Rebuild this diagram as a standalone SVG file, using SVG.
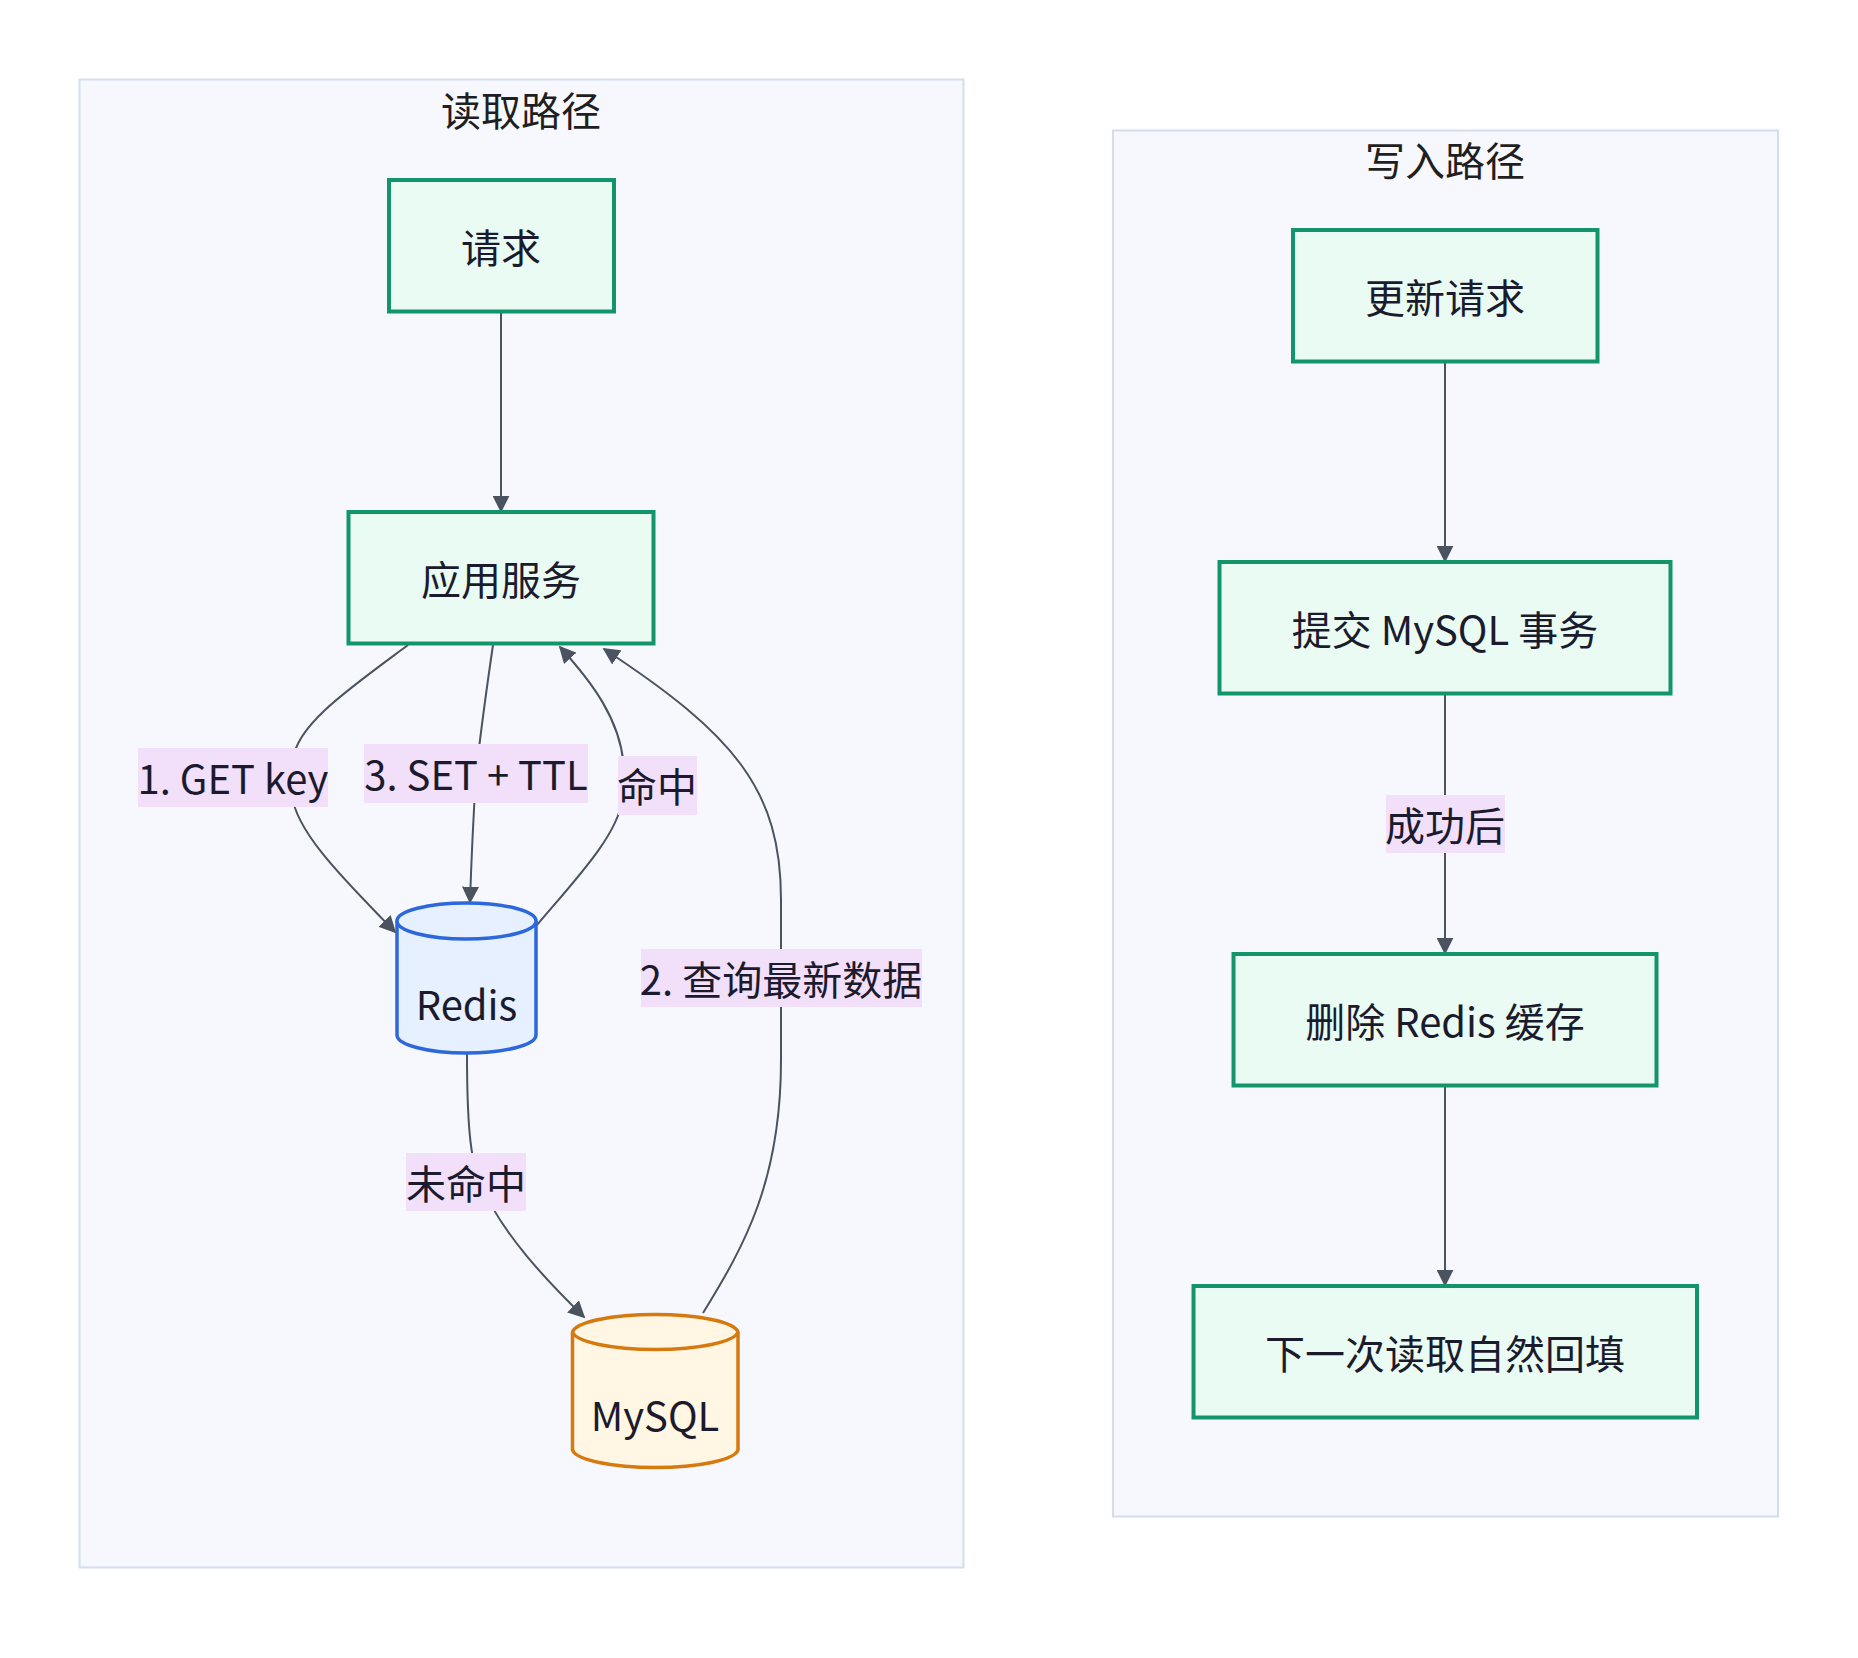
<svg xmlns="http://www.w3.org/2000/svg" width="1858" height="1658" viewBox="0 0 1858 1658">
<style>
  text { font-family: "Noto Sans CJK SC", "Noto Sans", sans-serif; font-size: 40px; fill: #1c1b2e; text-anchor: middle; dominant-baseline: central; }
  .cluster { fill: #f6f8fd; stroke: #d3ddf0; stroke-width: 2; }
  .title { fill: #1f1f1f; }
  .box { fill: #e9fbf3; stroke: #13956b; stroke-width: 4; }
  .redis { fill: #e6f0ff; stroke: #2c68dc; stroke-width: 3.5; }
  .mysql { fill: #fff6e4; stroke: #d67a10; stroke-width: 3.5; }
  .edge { fill: none; stroke: #4b5260; stroke-width: 2; marker-end: url(#arrow); }
  .lbl { fill: #f2dffa; }
</style>
<defs>
  <marker id="arrow" viewBox="0 0 10 10" refX="9" refY="5" markerUnits="userSpaceOnUse" markerWidth="17" markerHeight="17" orient="auto">
    <path d="M0,0 L10,5 L0,10 z" fill="#4b5260"/>
  </marker>
</defs>
<rect width="1858" height="1658" fill="#ffffff"/>

<g id="cluster-read">
  <rect class="cluster" x="79.5" y="79.5" width="884" height="1488"/>
  <text class="title" x="521" y="109">读取路径</text>
</g>
<g id="cluster-write">
  <rect class="cluster" x="1113" y="130.5" width="665" height="1386"/>
  <text class="title" x="1445" y="159">写入路径</text>
</g>

<g id="connectors">
  <path class="edge" d="M501,312 L501,511"/>
  <path class="edge" d="M408,645 C350,688 296,725 293,760 L292,795 C296,835 355,890 395,932"/>
  <path class="edge" d="M493,645 Q482,720 476,774 Q472,840 470,902"/>
  <path class="edge" d="M537,925 C575,880 618,835 622,800 L624,770 C622,720 590,680 560,647"/>
  <path class="edge" d="M703,1313 C745,1245 781,1180 781,1060 L781,900 C781,790 735,735 604,649"/>
  <path class="edge" d="M467,1053 C467,1120 470,1160 480,1182 C500,1232 548,1282 584,1317"/>
  <path class="edge" d="M1445,362 L1445,561"/>
  <path class="edge" d="M1445,694 L1445,953"/>
  <path class="edge" d="M1445,1086 L1445,1285"/>
</g>

<g id="edge-labels">
  <g id="label-get"><rect class="lbl" x="138" y="748" width="190" height="59"/><text x="233" y="777">1. GET key</text></g>
  <g id="label-set"><rect class="lbl" x="364" y="744" width="224" height="59"/><text x="476" y="773">3. SET + TTL</text></g>
  <g id="label-hit"><rect class="lbl" x="618" y="756" width="79" height="59"/><text x="657" y="785">命中</text></g>
  <g id="label-query"><rect class="lbl" x="641" y="949" width="281" height="58"/><text x="781" y="978">2. 查询最新数据</text></g>
  <g id="label-miss"><rect class="lbl" x="406" y="1153" width="120" height="58"/><text x="466" y="1182">未命中</text></g>
  <g id="label-ok"><rect class="lbl" x="1386" y="795" width="119" height="58"/><text x="1445" y="824">成功后</text></g>
</g>

<g id="node-request">
  <rect class="box" x="389" y="180" width="225" height="131.5"/>
  <text x="501" y="246">请求</text>
</g>
<g id="node-app">
  <rect class="box" x="348.5" y="512" width="305" height="131.5"/>
  <text x="501" y="578">应用服务</text>
</g>
<g id="node-redis">
  <path class="redis" d="M397,921 A69.5,18 0 0 1 536,921 L536,1035 A69.5,18 0 0 1 397,1035 Z"/>
  <path class="redis" fill="none" d="M397,921 A69.5,18 0 0 0 536,921"/>
  <text x="466.5" y="1003">Redis</text>
</g>
<g id="node-mysql">
  <path class="mysql" d="M572.5,1332 A83,19 0 0 1 738,1332 L738,1450 A83,19 0 0 1 572.5,1450 Z"/>
  <path class="mysql" fill="none" d="M572.5,1332 A83,19 0 0 0 738,1332"/>
  <text x="655" y="1414">MySQL</text>
</g>
<g id="node-update">
  <rect class="box" x="1293" y="230" width="304.5" height="131.5"/>
  <text x="1445" y="296">更新请求</text>
</g>
<g id="node-commit">
  <rect class="box" x="1219.5" y="562" width="451" height="131.5"/>
  <text x="1445" y="628">提交 MySQL 事务</text>
</g>
<g id="node-delete">
  <rect class="box" x="1233.5" y="954" width="423" height="131.5"/>
  <text x="1445" y="1020">删除 Redis 缓存</text>
</g>
<g id="node-refill">
  <rect class="box" x="1193.5" y="1286" width="503.5" height="131.5"/>
  <text x="1445" y="1352">下一次读取自然回填</text>
</g>
</svg>
